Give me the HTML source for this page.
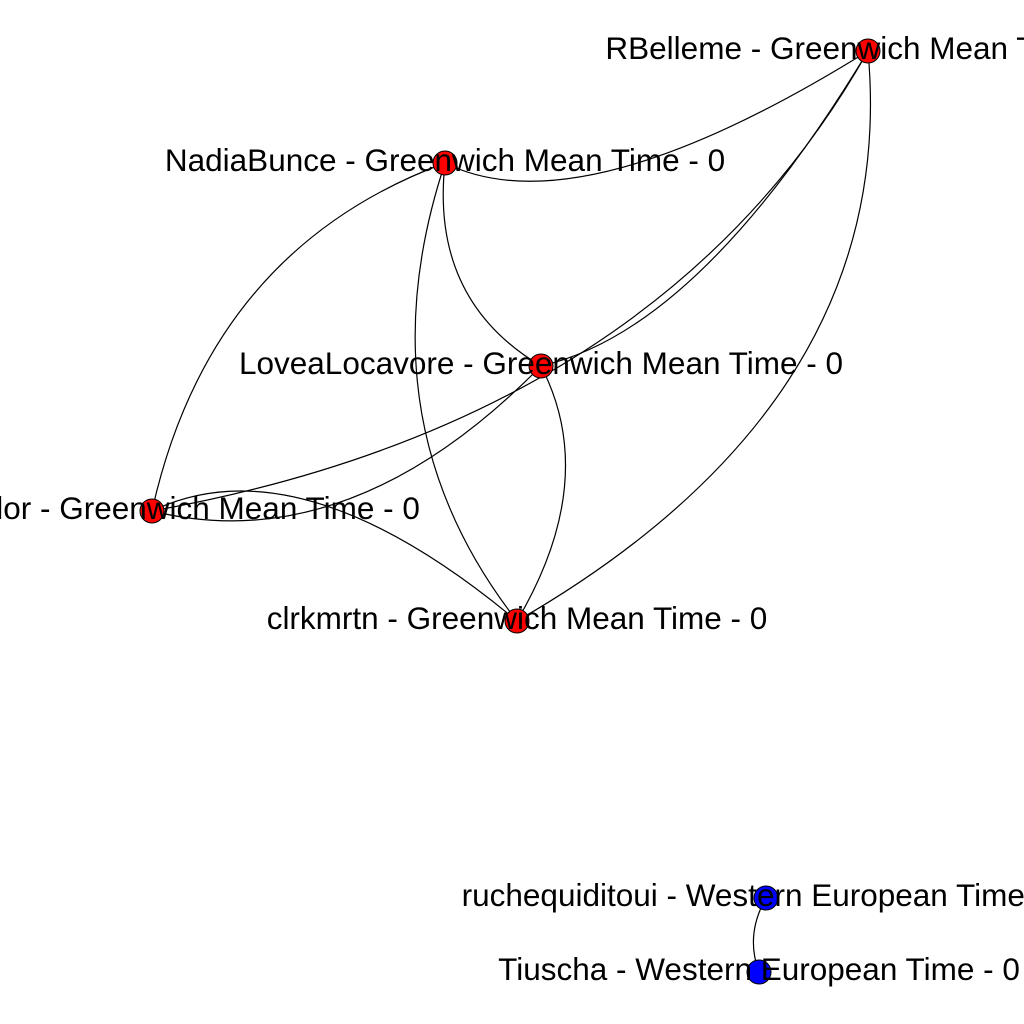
<!DOCTYPE html>
<html><head><meta charset="utf-8"><style>
html,body{margin:0;padding:0;background:#fff;}
svg{display:block;}
text{font-family:"Liberation Sans",Arial,sans-serif;font-size:31.5px;fill:#000;}
</style></head><body>
<svg id="g" width="1024" height="1024" viewBox="0 0 1024 1024">
<g id="edges"></g>
<g id="nodes"></g>
<g id="labels"></g>
</svg>
<script>
const nodeIds = ["R","N","L","T","C","Ru","Ti"];
const nodeLabels = ["RBelleme - Greenwich Mean Time - 0","NadiaBunce - Greenwich Mean Time - 0","LoveaLocavore - Greenwich Mean Time - 0","LaraTaylor - Greenwich Mean Time - 0","clrkmrtn - Greenwich Mean Time - 0","ruchequiditoui - Western European Time - 0","Tiuscha - Western European Time - 0"];
const nodeX = [868,445,541,152,517,766,759];
const nodeY = [51,163,366,511,621,898,972];
const nodeColors = ["#ff0000","#ff0000","#ff0000","#ff0000","#ff0000","#0000ff","#0000ff"];
const edgeFrom = ["N","L","T","C","L","T","C","C","T","T","Ru"];
const edgeTo   = ["R","R","R","R","N","N","N","L","L","C","Ti"];
const edgeCtrlX = [580,700,660,900,430,210,360,600,350,300,745];
const edgeCtrlY = [230,330,420,400,300,250,420,480,560,440,935];
const NS="http://www.w3.org/2000/svg";
const idx = id => nodeIds.indexOf(id);
const E=document.getElementById('edges'),Nd=document.getElementById('nodes'),Lb=document.getElementById('labels');
for(let i=0;i<edgeFrom.length;i++){
  const a=idx(edgeFrom[i]),b=idx(edgeTo[i]);
  const p=document.createElementNS(NS,'path');
  p.setAttribute('d',`M${nodeX[a]},${nodeY[a]} Q${edgeCtrlX[i]},${edgeCtrlY[i]} ${nodeX[b]},${nodeY[b]}`);
  p.setAttribute('fill','none');p.setAttribute('stroke','#000');p.setAttribute('stroke-width','1.2');
  
  
  E.appendChild(p);
}
for(let i=0;i<nodeIds.length;i++){
  const c=document.createElementNS(NS,'circle');
  c.setAttribute('cx',nodeX[i]);c.setAttribute('cy',nodeY[i]);c.setAttribute('r',12);
  c.setAttribute('fill',nodeColors[i]);c.setAttribute('stroke','#000');c.setAttribute('stroke-width','1');
  
  
  Nd.appendChild(c);
  const t=document.createElementNS(NS,'text');
  t.setAttribute('x',nodeX[i]);t.setAttribute('y',nodeY[i]+8);t.setAttribute('text-anchor','middle');
  t.textContent=nodeLabels[i];
  
  
  Lb.appendChild(t);
}
</script>
</body></html>
